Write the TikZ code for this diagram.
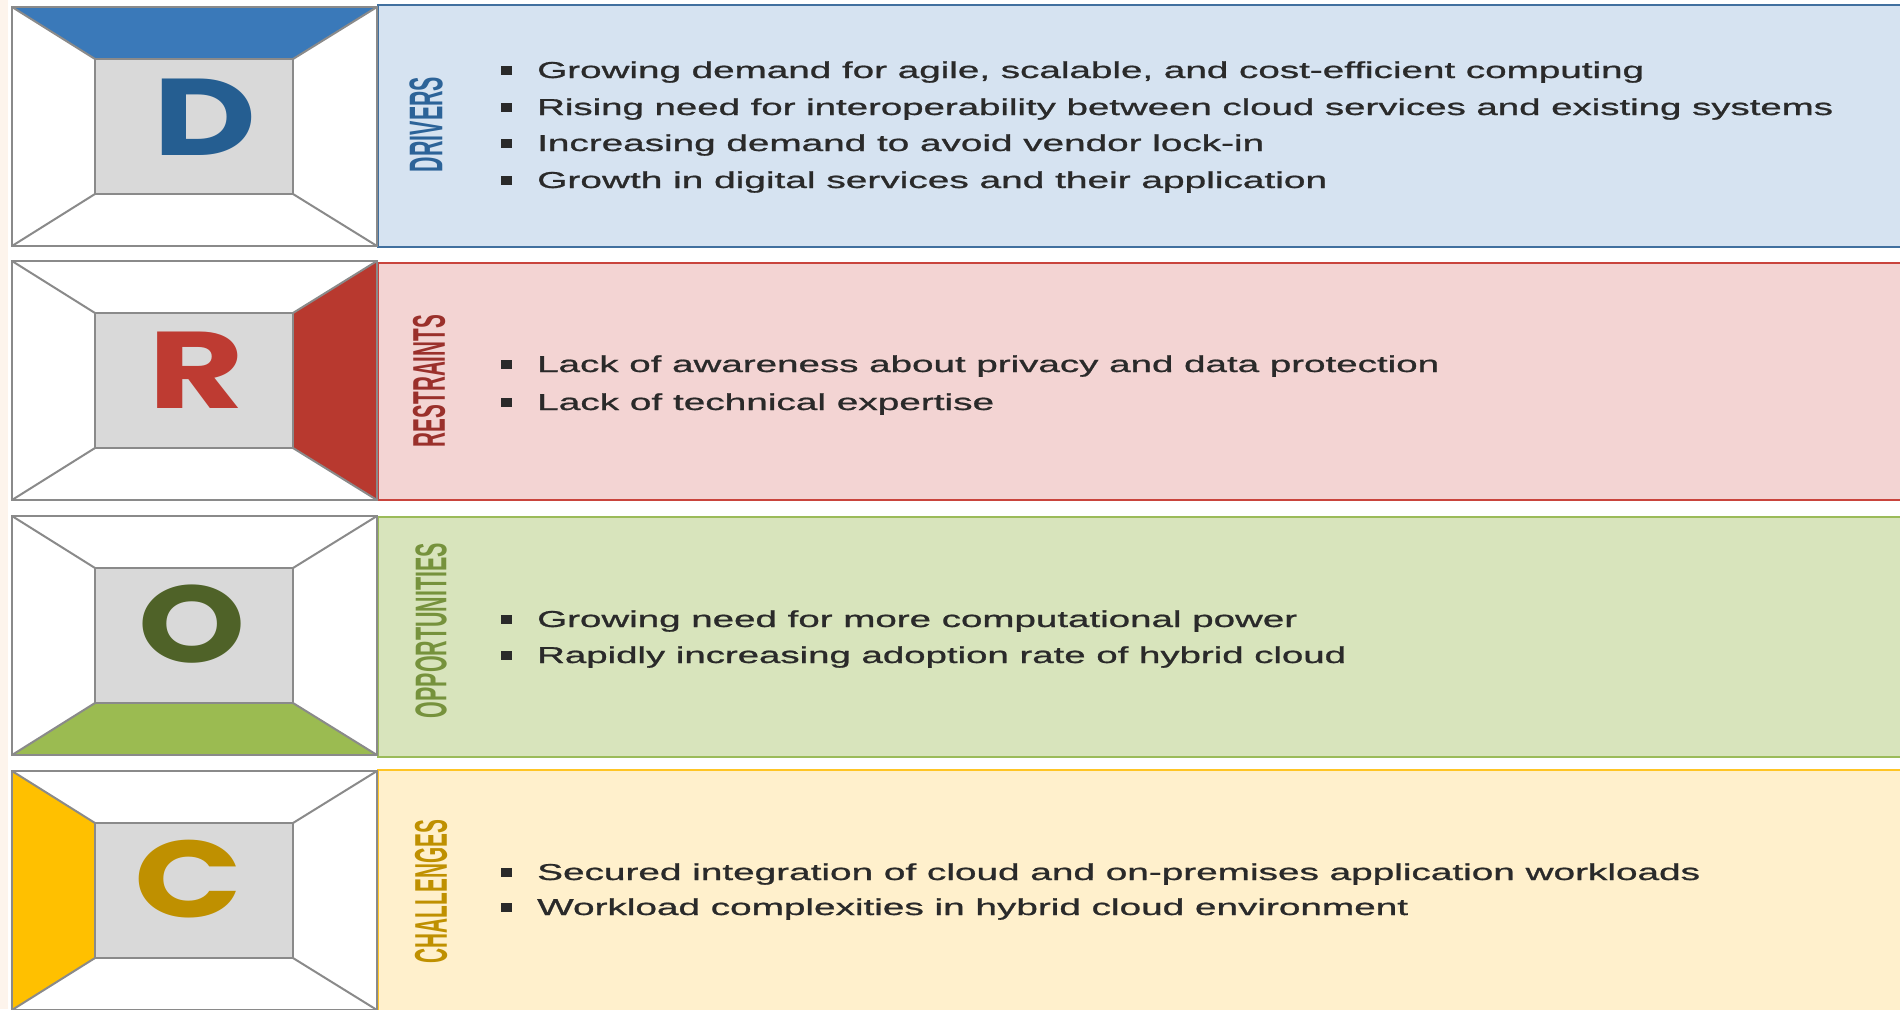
\documentclass[tikz,border=0pt]{standalone}
\usepackage{fontspec}
\usepackage{graphicx}
\newfontfamily\bodyfont{Liberation Sans}[FakeBold=0.8]
\newfontfamily\labelfont{Liberation Sans}
\newfontfamily\letterfont{Poppins}
\definecolor{textgray}{HTML}{2A2A2A}
\definecolor{framegray}{HTML}{8A8A8A}
\definecolor{innerfill}{HTML}{D9D9D9}
\definecolor{dTrap}{HTML}{3A79B9}
\definecolor{dLet}{HTML}{255E91}
\definecolor{dLab}{HTML}{2C6398}
\definecolor{dFill}{HTML}{D6E3F1}
\definecolor{dLine}{HTML}{41709F}
\definecolor{rTrap}{HTML}{B8392F}
\definecolor{rLet}{HTML}{BE3B32}
\definecolor{rLab}{HTML}{9A302B}
\definecolor{rFill}{HTML}{F3D4D3}
\definecolor{rLine}{HTML}{C9443D}
\definecolor{oTrap}{HTML}{9BBB51}
\definecolor{oLet}{HTML}{4F6228}
\definecolor{oLab}{HTML}{76923C}
\definecolor{oFill}{HTML}{D8E4BC}
\definecolor{oLine}{HTML}{9BBB59}
\definecolor{cTrap}{HTML}{FFC000}
\definecolor{cLet}{HTML}{BF9000}
\definecolor{cLab}{HTML}{BF9000}
\definecolor{cFill}{HTML}{FFF0CC}
\definecolor{cLine}{HTML}{FFC525}
\definecolor{edge}{HTML}{FDF4EC}
\tikzset{
  frame/.style={draw=framegray, line width=2pt, line join=miter},
  panel/.style={line width=2pt},
  txt/.style={anchor=base west, inner sep=0pt, text=textgray, font=\bodyfont\fontsize{23}{23}\selectfont},
  bul/.style={fill=textgray, minimum width=11pt, minimum height=9pt, inner sep=0pt},
  lab/.style={inner sep=0pt, rotate=90, font=\labelfont\bfseries},
  big/.style={inner sep=0pt, font=\letterfont\bfseries\fontsize{109}{109}\selectfont}
}
\newcommand\roomlines[1]{%
  \fill[innerfill] (95,{#1+52}) rectangle (293,{#1+187});
  \draw[frame] (12,#1) rectangle (377,{#1+239});
  \draw[frame] (95,{#1+52}) rectangle (293,{#1+187});
  \draw[frame] (12,#1) -- (95,{#1+52}) (377,#1) -- (293,{#1+52})
    (12,{#1+239}) -- (95,{#1+187}) (377,{#1+239}) -- (293,{#1+187});
}
\begin{document}
\begin{tikzpicture}[x=1pt,y=-1pt]
\useasboundingbox (0,0) rectangle (1900,1009);
\clip (0,0) rectangle (1900,1009);
\fill[white] (0,0) rectangle (1900,1009);
\fill[edge] (0,0) rectangle (8,1009);

% ---------- panels ----------
\draw[panel, draw=dLine, fill=dFill] (378,5) rectangle (1915,247);
\draw[panel, draw=rLine, fill=rFill] (378,263) rectangle (1915,500);
\draw[panel, draw=oLine, fill=oFill] (378,517) rectangle (1915,757);
\draw[panel, draw=cLine, fill=cFill] (378,770) rectangle (1915,1030);

% ---------- rooms ----------
\fill[white] (12,7) rectangle (377,246);
\fill[dTrap] (12,7) -- (377,7) -- (293,59) -- (95,59) -- cycle;
\roomlines{7}

\fill[white] (12,261) rectangle (377,500);
\fill[rTrap] (377,261) -- (377,500) -- (293,448) -- (293,313) -- cycle;
\roomlines{261}

\fill[white] (12,516) rectangle (377,755);
\fill[oTrap] (12,755) -- (377,755) -- (293,703) -- (95,703) -- cycle;
\roomlines{516}

\fill[white] (12,771) rectangle (377,1010);
\fill[cTrap] (12,771) -- (95,823) -- (95,958) -- (12,1010) -- cycle;
\roomlines{771}

% ---------- big letters ----------
\node[big, text=dLet] (bigD) at (205,117) {\scalebox{1.3}[1]{D}};
\node[big, text=rLet] (bigR) at (196,370) {\scalebox{1.35}[1]{R}};
\node[big, text=oLet] (bigO) at (192,624) {\scalebox{1.25}[1]{O}};
\node[big, text=cLet] (bigC) at (188,879) {\scalebox{1.3}[1]{C}};

% ---------- vertical labels ----------
\node[lab, text=dLab] (labD) at (426,124.5) {\resizebox{95pt}{33pt}{DRIVERS}};
\node[lab, text=rLab] (labR) at (429,381) {\resizebox{132pt}{32pt}{RESTRAINTS}};
\node[lab, text=oLab] (labO) at (431,630.5) {\resizebox{175pt}{31pt}{OPPORTUNITIES}};
\node[lab, text=cLab] (labC) at (431,891.5) {\resizebox{143pt}{32pt}{CHALLENGES}};

% ---------- drivers ----------
\node[bul] (bd1) at (506,70) {};
\node[txt] (td1) at (537,78) {\resizebox{1107pt}{\height}{Growing demand for agile, scalable, and cost-efficient computing}};
\node[bul] (bd2) at (506,107) {};
\node[txt] (td2) at (537,115) {\resizebox{1296pt}{\height}{Rising need for interoperability between cloud services and existing systems}};
\node[bul] (bd3) at (506,143) {};
\node[txt] (td3) at (537,151) {\resizebox{727pt}{\height}{Increasing demand to avoid vendor lock-in}};
\node[bul] (bd4) at (506,180) {};
\node[txt] (td4) at (537,188) {\resizebox{790pt}{\height}{Growth in digital services and their application}};

% ---------- restraints ----------
\node[bul] (br1) at (506,364) {};
\node[txt] (tr1) at (537,372) {\resizebox{902pt}{\height}{Lack of awareness about privacy and data protection}};
\node[bul] (br2) at (506,402) {};
\node[txt] (tr2) at (537,410) {\resizebox{457pt}{\height}{Lack of technical expertise}};

% ---------- opportunities ----------
\node[bul] (bo1) at (506,619) {};
\node[txt] (to1) at (537,627) {\resizebox{760pt}{\height}{Growing need for more computational power}};
\node[bul] (bo2) at (506,655) {};
\node[txt] (to2) at (537,663) {\resizebox{809pt}{\height}{Rapidly increasing adoption rate of hybrid cloud}};

% ---------- challenges ----------
\node[bul] (bc1) at (506,872) {};
\node[txt] (tc1) at (537,880) {\resizebox{1163pt}{\height}{Secured integration of cloud and on-premises application workloads}};
\node[bul] (bc2) at (506,907) {};
\node[txt] (tc2) at (537,915) {\resizebox{871pt}{\height}{Workload complexities in hybrid cloud environment}};
\end{tikzpicture}
\end{document}
